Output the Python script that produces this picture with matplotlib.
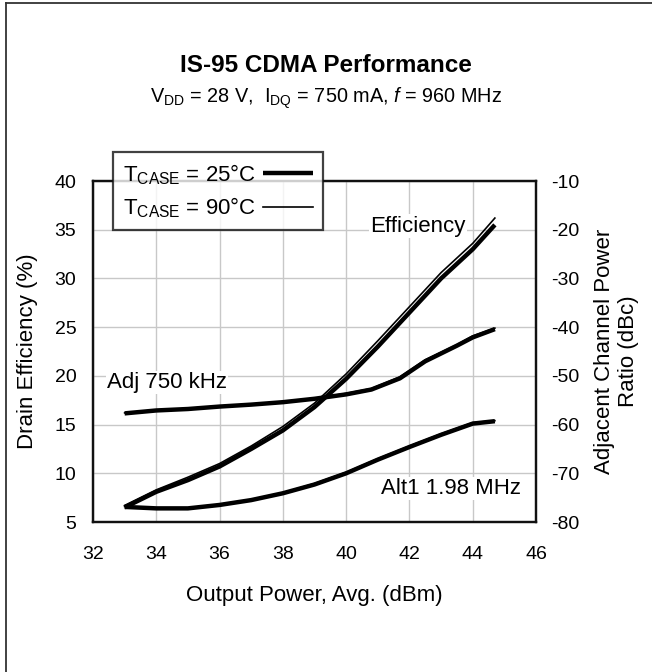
import matplotlib
matplotlib.use('Agg')
import matplotlib.pyplot as plt
from matplotlib.lines import Line2D
import numpy as np

plt.rcParams['font.family'] = ['Liberation Sans', 'DejaVu Sans']
plt.rcParams['mathtext.fontset'] = 'custom'
plt.rcParams['mathtext.rm'] = 'Liberation Sans'
plt.rcParams['mathtext.it'] = 'Liberation Sans:italic'
plt.rcParams['axes.unicode_minus'] = False

# efficiency (%) vs output power (dBm)
pout = [33.0, 34.0, 35.0, 36.0, 37.0, 38.0, 39.0, 40.0, 41.0, 42.0, 43.0, 44.0, 44.7]
eff_25 = [6.5, 8.1, 9.3, 10.7, 12.5, 14.4, 16.8, 19.7, 23.0, 26.5, 30.0, 33.0, 35.5]
eff_90 = [6.7, 8.3, 9.6, 11.0, 12.8, 14.8, 17.2, 20.2, 23.6, 27.1, 30.6, 33.6, 36.2]

# adjacent channel power ratio (dBc)
acpr_x = [33.0, 34.0, 35.0, 36.0, 37.0, 38.0, 39.0, 40.0, 40.8, 41.7, 42.5, 43.5, 44.0, 44.7]
adj_25 = [-57.7, -57.1, -56.8, -56.3, -55.9, -55.4, -54.7, -53.8, -52.8, -50.5, -47.0, -43.8, -42.1, -40.4]
adj_90 = [-57.6, -57.0, -56.7, -56.2, -55.8, -55.3, -54.6, -53.6, -52.6, -50.2, -46.7, -43.6, -41.8, -40.2]
alt_x = [33.0, 34.0, 35.0, 36.0, 37.0, 38.0, 39.0, 40.0, 41.0, 42.0, 43.0, 44.0, 44.7]
alt_25 = [-76.9, -77.2, -77.2, -76.5, -75.5, -74.1, -72.3, -70.0, -67.2, -64.6, -62.1, -59.8, -59.3]
alt_90 = [-76.8, -77.1, -77.1, -76.4, -75.4, -74.0, -72.1, -69.8, -67.0, -64.4, -61.9, -59.6, -59.2]

xticks = [32, 34, 36, 38, 40, 42, 44, 46]
yticks_l = [5, 10, 15, 20, 25, 30, 35, 40]
yticks_r = [-80, -70, -60, -50, -40, -30, -20, -10]

fs_tick = 14
fs_lab = 16
fs_in = 16   # in-plot labels and legend

fig = plt.figure(figsize=(6.52, 6.72), dpi=100)
ax = fig.add_axes([0.1426, 0.2232, 0.6795, 0.5074])
ax2 = ax.twinx()

ax.set_xlim(32, 46)
ax.set_ylim(5, 40)
ax2.set_ylim(-80, -10)
ax.set_xticks(xticks)
ax.set_yticks(yticks_l)
ax2.set_yticks(yticks_r)
ax.grid(True, color='#c8c8c8', linewidth=1.0)
ax.set_axisbelow(True)

ax.tick_params(axis='x', length=0, labelsize=fs_tick, pad=17)
ax.tick_params(axis='y', length=0, labelsize=fs_tick, pad=12)
ax2.tick_params(axis='y', length=0, labelsize=fs_tick, pad=11)
for a in (ax, ax2):
    for s in a.spines.values():
        s.set_linewidth(1.6)
        s.set_color('#111111')

thick = dict(color='black', linewidth=3.2, solid_capstyle='butt')
thin = dict(color='black', linewidth=1.2)

l25, = ax.plot(pout, eff_25, **thick)
l90, = ax.plot(pout, eff_90, **thin)
ax2.plot(acpr_x, adj_25, **thick)
ax2.plot(acpr_x, adj_90, **thin)
ax2.plot(alt_x, alt_25, **thick)
ax2.plot(alt_x, alt_90, **thin)

bg = dict(facecolor='white', edgecolor='none', pad=1)
ax.text(40.75, 34.8, 'Efficiency', fontsize=fs_in, ha='left', va='baseline', bbox=bg)
ax.text(32.44, 18.75, 'Adj 750 kHz', fontsize=fs_in, ha='left', va='baseline', bbox=bg)
ax.text(41.1, 7.87, 'Alt1 1.98 MHz', fontsize=fs_in, ha='left', va='baseline', bbox=bg)

ax.set_xlabel('Output Power, Avg. (dBm)', fontsize=fs_lab, labelpad=16)
ax.set_ylabel('Drain Efficiency (%)', fontsize=fs_lab, labelpad=12)
ax2.set_ylabel('Adjacent Channel Power\nRatio (dBc)', fontsize=fs_lab, labelpad=10)

leg = fig.legend([l25, l90],
                 [r'T$_{\mathrm{CASE}}$ = 25°C', r'T$_{\mathrm{CASE}}$ = 90°C'],
                 loc='upper left', bbox_to_anchor=(113 / 652, 1 - 152 / 672),
                 fontsize=fs_in, frameon=True, fancybox=False, markerfirst=False,
                 handlelength=2.25, handletextpad=0.3, borderpad=0.45,
                 labelspacing=0.4, borderaxespad=0)
leg.get_frame().set_edgecolor('#111111')
leg.get_frame().set_linewidth(1.6)
leg.set_zorder(10)

fig.text(0.5, 1 - 72 / 672, 'IS-95 CDMA Performance', fontsize=17.5,
         fontweight='bold', ha='center', va='baseline')
fig.text(0.5, 1 - 103 / 672,
         r'V$_{\mathrm{DD}}$ = 28 V,  I$_{\mathrm{DQ}}$ = 750 mA, $\mathit{f}$ = 960 MHz',
         fontsize=14.3, ha='center', va='baseline')

# page border (left and top edges only visible)
fig.add_artist(Line2D([6 / 652, 6 / 652], [0, 1 - 2.5 / 672], color='#333333',
                      linewidth=1.3, transform=fig.transFigure))
fig.add_artist(Line2D([6 / 652, 1], [1 - 2.5 / 672, 1 - 2.5 / 672], color='#333333',
                      linewidth=1.3, transform=fig.transFigure))

fig.savefig('out.png', dpi=100)
